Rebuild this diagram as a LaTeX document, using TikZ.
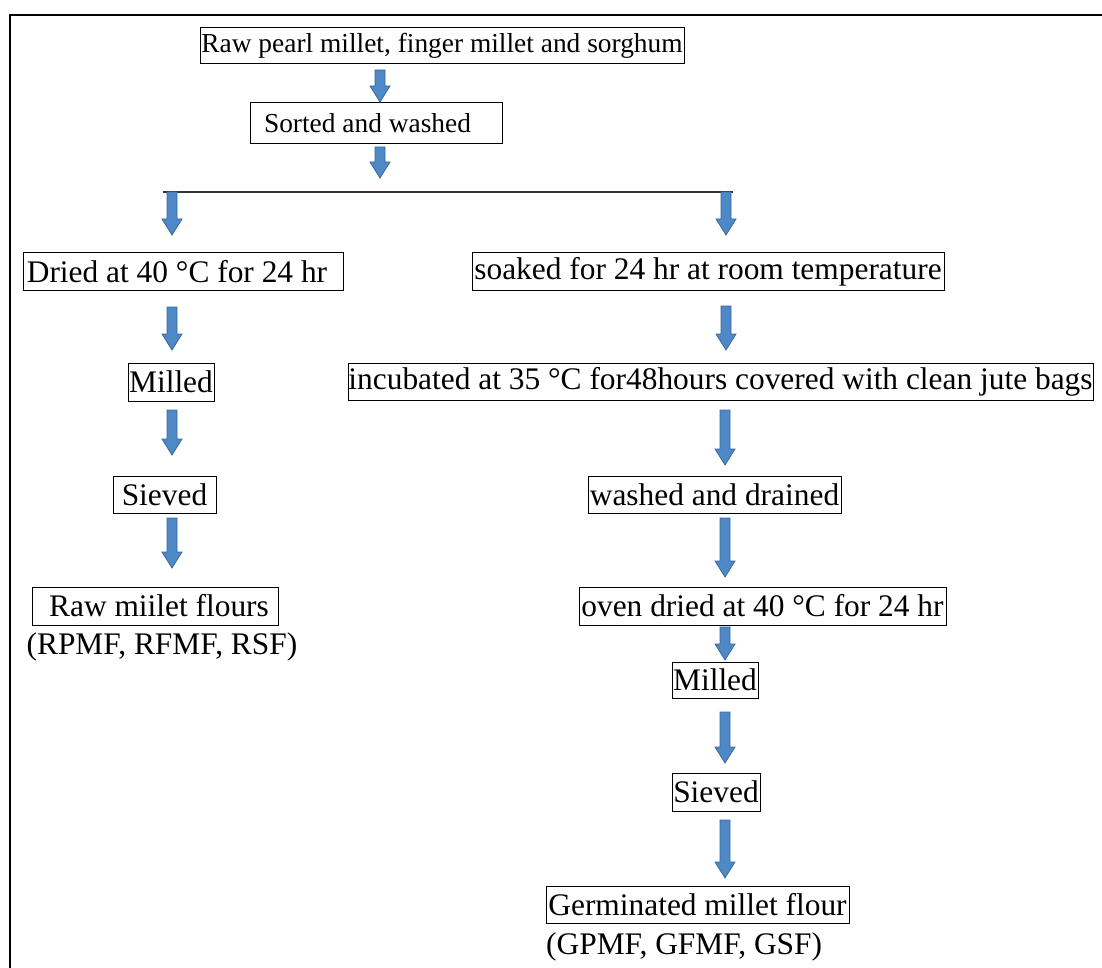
\documentclass[tikz,border=0pt]{standalone}
\usepackage{fontspec}
\setmainfont{Liberation Serif}
\usetikzlibrary{calc}
\definecolor{arrowfill}{HTML}{4F88C6}
\definecolor{arrowline}{HTML}{3A6A9E}
\newcommand\bigtxt{\fontsize{31.4}{36}\selectfont}
\newcommand\smalltxt{\fontsize{27.4}{32}\selectfont}
\tikzset{
  box/.style={draw=black, line width=1pt, inner sep=0pt, minimum height=37pt},
  smallbox/.style={box},
  plaintext/.style={inner sep=0pt},
  blockarrow/.style={fill=arrowfill, draw=arrowline, line width=0.8pt, line join=miter},
  frameline/.style={line width=2pt, black},
  branch/.style={line width=1.5pt, black!80}
}
\newcommand\barrow[2]{\path[blockarrow] let \p1=(#1), \p2=(#2) in
  (\x1-5pt,\y1) -- (\x1+5pt,\y1) -- (\x1+5pt,\y2+16pt) -- (\x1+10pt,\y2+16pt)
  -- (\x1,\y2) -- (\x1-10pt,\y2+16pt) -- (\x1-5pt,\y2+16pt) -- cycle;}
\begin{document}
\begin{tikzpicture}[x=1pt,y=-1pt]
\useasboundingbox (0,0) rectangle (1102,968);
% frame
\draw[frameline] (10,968) -- (10,15) -- (1102,15);

% top boxes
\node[smallbox, minimum width=484pt, minimum height=36pt] (top) at (442,46) {\smalltxt Raw pearl millet, finger millet and sorghum};
\node[smallbox, minimum width=252pt, minimum height=41pt] (sorted) at (376,123.5) {\smalltxt Sorted and washed\hspace*{17pt}};

% left branch
\node[box, minimum width=320pt] (dried) at (183,271.5) {\bigtxt Dried at 40 °C for 24 hr\hspace*{12pt}};
\node[box, minimum width=86pt, minimum height=38pt] (milledL) at (171,382) {\bigtxt Milled};
\node[box, minimum width=103pt] (sievedL) at (164.5,494.5) {\bigtxt Sieved};
\node[box, minimum width=246pt, minimum height=38pt] (rawflour) at (155,606) {\bigtxt\hspace*{8pt}Raw miilet flours};
\node[plaintext] (rawcodes) at (162,647) {\bigtxt (RPMF, RFMF, RSF)};

% right branch
\node[box, minimum width=472pt] (soaked) at (708,271.5) {\bigtxt soaked for 24 hr at room temperature};
\node[box, minimum width=745pt] (incub) at (720.5,381.5) {\bigtxt incubated at 35 °C for48hours covered with clean jute bags};
\node[box, minimum width=253pt] (washed) at (714.5,494.5) {\bigtxt washed and drained};
\node[box, minimum width=367pt, minimum height=38pt] (oven) at (762.5,606) {\bigtxt oven dried at 40 °C for 24 hr};
\node[box, minimum width=86pt, minimum height=36pt] (milledR) at (715,680) {\bigtxt Milled};
\node[box, minimum width=88pt, minimum height=38pt] (sievedR) at (716,792) {\bigtxt Sieved};
\node[box, minimum width=303pt] (germ) at (697.5,904.5) {\bigtxt Germinated millet flour};
\node[plaintext, anchor=west] (germcodes) at (546,947) {\bigtxt (GPMF, GFMF, GSF)};

% branch line
\coordinate (brL) at (163,192);
\coordinate (brR) at (733,192);
\draw[branch] (brL) -- (brR);

% arrow end points
\coordinate (a1s) at (380,70);   \coordinate (a1e) at (380,102);
\coordinate (a2s) at (380,147);  \coordinate (a2e) at (380,178);
\coordinate (l0s) at (172,192);  \coordinate (l0e) at (172,235);
\coordinate (l1s) at (172,307);  \coordinate (l1e) at (172,350);
\coordinate (l2s) at (172,410);  \coordinate (l2e) at (172,455);
\coordinate (l3s) at (172,518);  \coordinate (l3e) at (172,568);
\coordinate (r0s) at (726,192);  \coordinate (r0e) at (726,235);
\coordinate (r1s) at (726,306);  \coordinate (r1e) at (726,350);
\coordinate (r2s) at (725,410);  \coordinate (r2e) at (725,465);
\coordinate (r3s) at (725,518);  \coordinate (r3e) at (725,577);
\coordinate (r4s) at (725,627);  \coordinate (r4e) at (725,660);
\coordinate (r5s) at (725,712);  \coordinate (r5e) at (725,763);
\coordinate (r6s) at (725,820);  \coordinate (r6e) at (725,878);

\barrow{a1s}{a1e}
\barrow{a2s}{a2e}
\barrow{l0s}{l0e}
\barrow{l1s}{l1e}
\barrow{l2s}{l2e}
\barrow{l3s}{l3e}
\barrow{r0s}{r0e}
\barrow{r1s}{r1e}
\barrow{r2s}{r2e}
\barrow{r3s}{r3e}
\barrow{r4s}{r4e}
\barrow{r5s}{r5e}
\barrow{r6s}{r6e}
\end{tikzpicture}
\end{document}
